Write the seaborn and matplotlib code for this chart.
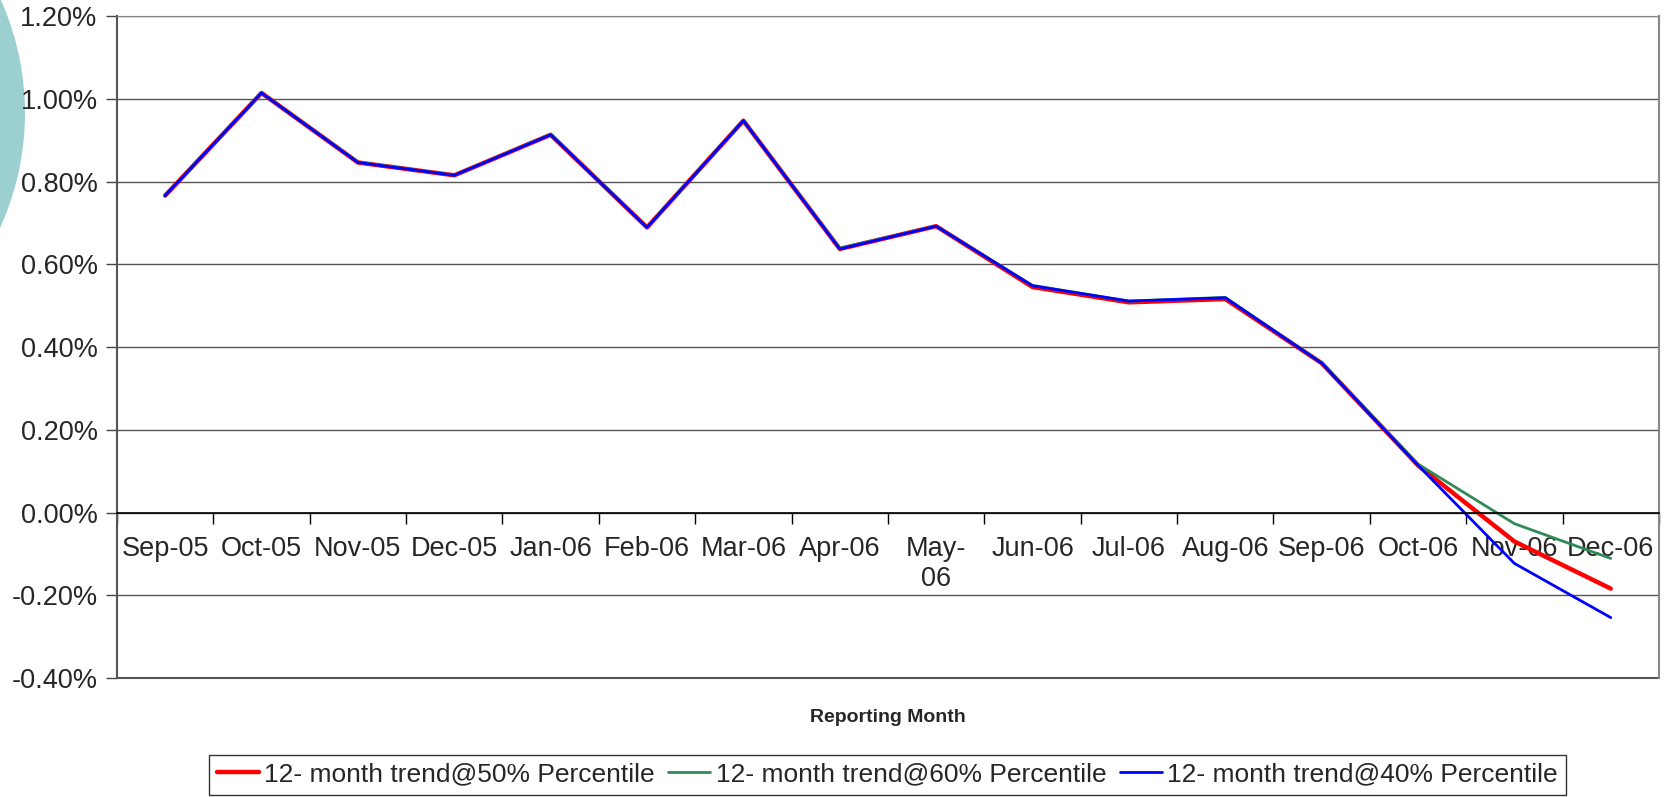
import pandas as pd
import seaborn as sns
import matplotlib.pyplot as plt
from matplotlib.patches import Ellipse

# Values (percent)
months = ["Sep-05", "Oct-05", "Nov-05", "Dec-05", "Jan-06", "Feb-06", "Mar-06", "Apr-06",
          "May-06", "Jun-06", "Jul-06", "Aug-06", "Sep-06", "Oct-06", "Nov-06", "Dec-06"]
p50 = [0.766, 1.014, 0.846, 0.815, 0.913, 0.689, 0.947, 0.637,
       0.692, 0.545, 0.508, 0.516, 0.361, 0.114, -0.070, -0.184]
p60 = [0.766, 1.014, 0.847, 0.815, 0.914, 0.689, 0.947, 0.639,
       0.692, 0.549, 0.511, 0.520, 0.362, 0.117, -0.027, -0.111]
p40 = [0.766, 1.014, 0.846, 0.815, 0.913, 0.689, 0.947, 0.637,
       0.692, 0.548, 0.511, 0.519, 0.361, 0.114, -0.123, -0.254]
series_names = ["12- month trend@50% Percentile",
                "12- month trend@60% Percentile",
                "12- month trend@40% Percentile"]
xtick_labels = [m if m != "May-06" else "May-\n06" for m in months]

sns.set_style("white")
plt.rcParams['font.family'] = ['Liberation Sans', 'DejaVu Sans']

fig = plt.figure(figsize=(16.71, 7.97), dpi=100)
ax = fig.add_axes([0.0700, 0.1493, 0.9228, 0.8306])

# decorative teal circle at the left edge
fig.add_artist(Ellipse((-0.1508, 0.8582), 0.3315, 0.6951, transform=fig.transFigure,
                       facecolor="#9BCFD0", edgecolor="none", zorder=-1))

colors = ["#FF0000", "#2E8B57", "#0000FF"]
widths = [3.2, 2.0, 2.0]
for name, vals, c, w in zip(series_names, [p50, p60, p40], colors, widths):
    df = pd.DataFrame({"month": months, "value": vals})
    sns.lineplot(data=df, x="month", y="value", sort=False, color=c,
                 linewidth=w, label=name, ax=ax)

ax.set_xlim(-0.5, len(months) - 0.5)
ax.set_ylim(-0.4, 1.2)
yt = [-0.4 + 0.2 * i for i in range(9)]
ax.set_yticks(yt)
ax.set_yticklabels([f"{v:.2f}%" for v in yt])
ax.yaxis.grid(True, color="#555555", linewidth=1.0)
ax.axhline(-0.4, color="#555555", linewidth=1.5, clip_on=False, zorder=1)
ax.set_ylabel("")

ax.set_xticks(range(len(months)))
ax.set_xticklabels(xtick_labels, multialignment="center", linespacing=1.15)
ax.set_xticks([i - 0.5 for i in range(len(months) + 1)], minor=True)
ax.tick_params(axis="x", which="major", bottom=True, length=0, pad=17, labelsize=19.5)
ax.tick_params(axis="x", which="minor", bottom=True, length=8, width=1, color="black",
               direction="out")
ax.tick_params(axis="y", left=True, length=8, width=1, color="#444444", direction="out",
               labelsize=19.5, pad=6)

ax.spines["bottom"].set_position(("data", 0))
ax.spines["bottom"].set_color("black")
ax.spines["bottom"].set_linewidth(1.2)
ax.spines["left"].set_color("#555555")
ax.spines["left"].set_linewidth(1.5)
ax.spines["right"].set_color("#888888")
ax.spines["right"].set_linewidth(1.5)
ax.spines["top"].set_color("#888888")

ax.set_xlabel("Reporting Month", fontsize=14, fontweight="bold")
ax.xaxis.set_label_coords(0.5, -0.047)

handles, labels = ax.get_legend_handles_labels()
ax.get_legend().remove()
leg = fig.legend(handles, labels, loc="center", bbox_to_anchor=(0.531, 0.028),
                 bbox_transform=fig.transFigure, ncol=3, fontsize=19, frameon=True,
                 fancybox=False, handlelength=1.6, handletextpad=0.2, columnspacing=0.5,
                 borderpad=0.3, borderaxespad=0)
leg.get_frame().set_edgecolor("black")
leg.get_frame().set_linewidth(1.0)

plt.savefig("out.png", dpi=100)
